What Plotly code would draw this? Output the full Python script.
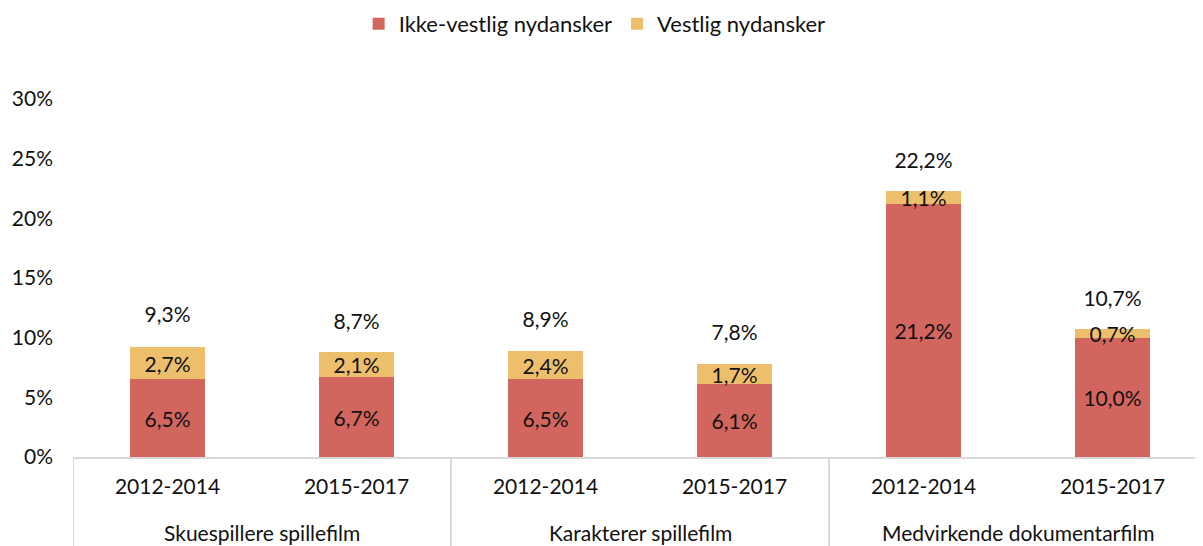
import plotly.graph_objects as go

groups = ["Skuespillere spillefilm", "Skuespillere spillefilm",
          "Karakterer spillefilm", "Karakterer spillefilm",
          "Medvirkende dokumentarfilm", "Medvirkende dokumentarfilm"]
periods = ["2012-2014", "2015-2017", "2012-2014", "2015-2017", "2012-2014", "2015-2017"]
ikke_vestlig = [6.5, 6.7, 6.5, 6.1, 21.2, 10.0]
vestlig = [2.7, 2.1, 2.4, 1.7, 1.1, 0.7]
totals = [9.3, 8.7, 8.9, 7.8, 22.2, 10.7]
y_ticks = [0, 5, 10, 15, 20, 25, 30]

RED = "#D2665E"
YEL = "#EDBF6C"
FONT = "Lato"
TXT = "#111111"
GRID = "#D9D9D9"

def fmt(v):
    return f"{v:.1f}".replace(".", ",") + "%"

pos = list(range(len(periods)))

fig = go.Figure()
fig.add_trace(go.Bar(
    x=pos, y=ikke_vestlig, name="Ikke-vestlig nydansker",
    marker=dict(color=RED, line=dict(width=0)),
    text=[fmt(v) for v in ikke_vestlig], textposition="inside",
    insidetextanchor="middle", textangle=0, constraintext="none",
    textfont=dict(family=FONT, size=21, color=TXT), hoverinfo="skip",
))
fig.add_trace(go.Bar(
    x=pos, y=vestlig, name="Vestlig nydansker",
    marker=dict(color=YEL, line=dict(width=0)),
    text=[fmt(v) for v in vestlig], textposition="inside",
    insidetextanchor="middle", textangle=0, constraintext="none",
    textfont=dict(family=FONT, size=21, color=TXT), hoverinfo="skip",
))
fig.add_trace(go.Scatter(
    x=pos, y=totals, mode="markers+text", showlegend=False,
    marker=dict(size=28, opacity=0, color="white"),
    text=[fmt(v) for v in totals], textposition="top center",
    textfont=dict(family=FONT, size=21, color=TXT), hoverinfo="skip",
))

# group labels and dividers built from the group list
bounds = []
start = 0
for i in range(1, len(groups) + 1):
    if i == len(groups) or groups[i] != groups[start]:
        bounds.append((start, i - 1, groups[start]))
        start = i

annotations = []
shapes = []
for s, e, name in bounds:
    annotations.append(dict(
        x=(s + e) / 2, xref="x", y=-0.21, yref="paper", yanchor="middle",
        text=name, showarrow=False, font=dict(family=FONT, size=21, color=TXT),
    ))
    shapes.append(dict(type="line", xref="x", yref="paper", x0=s - 0.5, x1=s - 0.5,
                       y0=0, y1=-0.26, line=dict(color=GRID, width=2)))
shapes.append(dict(type="line", xref="x", yref="paper",
                   x0=bounds[-1][1] + 0.5, x1=bounds[-1][1] + 0.5,
                   y0=0, y1=-0.26, line=dict(color=GRID, width=2)))

fig.update_layout(
    barmode="stack", bargap=0.6,
    width=1203, height=546,
    margin=dict(l=65, r=4, t=91, b=97, autoexpand=False),
    paper_bgcolor="white", plot_bgcolor="white",
    font=dict(family=FONT, size=21, color=TXT),
    legend=dict(orientation="h", x=0.46, xanchor="center",
                y=1.2095, yanchor="middle",
                font=dict(family=FONT, size=22, color=TXT), traceorder="normal"),
    showlegend=True,
    annotations=annotations,
    shapes=shapes,
)
fig.update_xaxes(
    range=[-0.5, len(pos) - 0.5], tickvals=pos, ticktext=periods,
    showline=True, linecolor=GRID, linewidth=2,
    showgrid=False, zeroline=False, ticks="", automargin=False,
    ticklabelstandoff=10,
    tickfont=dict(family=FONT, size=21, color=TXT),
)
fig.update_yaxes(
    range=[0, 30], tickvals=y_ticks, ticktext=[f"{v}%" for v in y_ticks],
    showgrid=False, showline=False, zeroline=False, ticks="", automargin=False,
    ticklabelstandoff=19,
    tickfont=dict(family=FONT, size=21, color=TXT),
)

fig.write_html("out.html")
